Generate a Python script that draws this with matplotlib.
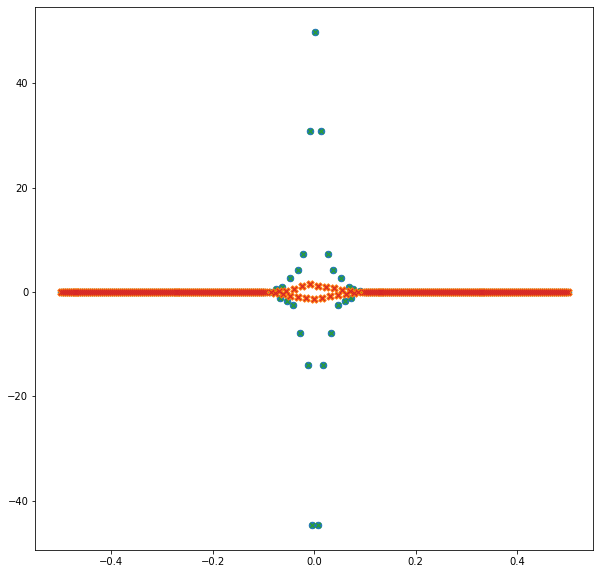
import numpy as np
import matplotlib
matplotlib.use("Agg")
import matplotlib.pyplot as plt

# flat band: sample grid from -0.5 to 0.5 (257 bins)
freq = np.arange(-128, 129) / 256

# series 1 (blue o / green x): points off the flat band near the centre
x1_centre = [-0.088, -0.075, -0.068, -0.064, -0.054, -0.048, -0.042, -0.032,
             -0.028, -0.022, -0.012, -0.008, -0.004, 0.002, 0.007, 0.013,
             0.017, 0.027, 0.033, 0.037, 0.047, 0.053, 0.060, 0.069, 0.073,
             0.077, 0.090]
y1_centre = [0.0, 0.6, -1.2, 1.0, -1.7, 2.7, -2.5, 4.2,
             -7.9, 7.2, -14.0, 30.8, -44.7, 49.9, -44.7, 30.8,
             -14.0, 7.2, -7.9, 4.2, -2.5, 2.7, -1.7, 1.0, -1.1,
             0.6, 0.3]

# series 2 (orange X / red x): small wiggle around zero near the centre
x2_centre = [-0.086, -0.078, -0.070, -0.062, -0.055, -0.047, -0.039, -0.031,
             -0.023, -0.016, -0.008, 0.0, 0.008, 0.016, 0.023, 0.031,
             0.039, 0.047, 0.055, 0.062, 0.070, 0.078, 0.086]
y2_centre = [0.1, -0.2, 0.3, -0.4, 0.3, -0.7, 0.6, -0.9,
             1.1, -1.2, 1.5, -1.3, 1.2, -1.1, 0.9, -0.8,
             0.7, -0.5, 0.4, -0.3, 0.2, -0.1, 0.1]

band = freq[np.abs(freq) > 0.095]
x1 = np.concatenate([band, x1_centre])
y1 = np.concatenate([np.zeros(len(band)), y1_centre])
x2 = np.concatenate([band, x2_centre])
y2 = np.concatenate([np.zeros(len(band)), y2_centre])

fig = plt.figure(figsize=(600 / 72, 575 / 72), dpi=72)
ax = fig.add_axes([35.3 / 600, 1 - 550 / 575, (593 - 35.3) / 600, (550 - 7) / 575])

ax.scatter(x1, y1, marker="o", color="tab:blue", s=42)
ax.scatter(x1, y1, marker="x", color="tab:green", s=25, linewidths=1.2)
ax.scatter(x2, y2, marker="X", color="tab:orange", s=55)
ax.scatter(x2, y2, marker="x", color="tab:red", s=30, linewidths=1.2)

fig.savefig("out.png", dpi=72)
